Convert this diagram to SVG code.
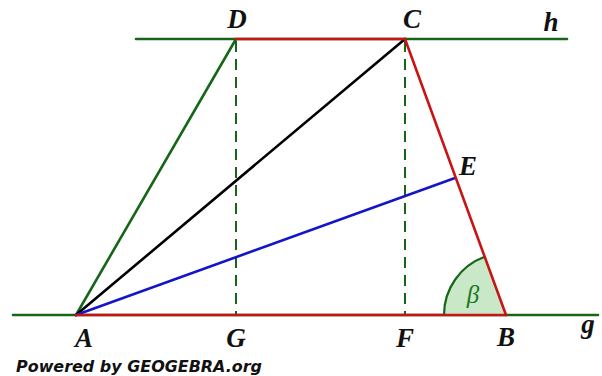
<svg xmlns="http://www.w3.org/2000/svg" width="602" height="376" viewBox="0 0 602 376">
<style>
.ln{stroke-width:2.6;fill:none;stroke-linecap:round}
.gr{stroke:#16661a}
.rd{stroke:#c81414}
.bl{stroke:#1414c8}
.bk{stroke:#000}
.da{stroke:#16661a;stroke-width:2;stroke-dasharray:11 7;fill:none}
.lb{font-family:"Liberation Serif","DejaVu Serif",serif;font-style:italic;font-weight:bold;font-size:27px;fill:#111;text-anchor:middle}
</style>
<rect width="602" height="376" fill="#fff"/>
<g id="connectors">
<line class="ln gr" x1="136" y1="39" x2="567" y2="39"/>
<line class="ln gr" x1="13" y1="315" x2="598" y2="315"/>
<line class="da" x1="236" y1="41" x2="236" y2="314"/>
<line class="da" x1="405" y1="41" x2="405" y2="314"/>
<path id="angle-beta" d="M506,315 L444,315 A62,62 0 0 1 484.7,256.8 Z" fill="#c8e8c8" stroke="none"/>
<path d="M444,315 A62,62 0 0 1 484.7,256.8" class="gr" stroke-width="2.2" fill="none"/>
<line class="ln gr" x1="76" y1="315" x2="236" y2="39"/>
<line class="ln bk" x1="76" y1="315" x2="405" y2="39"/>
<line class="ln bl" x1="76" y1="315" x2="455" y2="178"/>
<line class="ln rd" x1="236" y1="39" x2="405" y2="39"/>
<line class="ln rd" x1="76" y1="315" x2="506" y2="315"/>
<line class="ln rd" x1="405" y1="39" x2="506" y2="315"/>
</g>
<g id="node-D"><text class="lb" x="237" y="28">D</text></g>
<g id="node-C"><text class="lb" x="412" y="28">C</text></g>
<g id="node-h"><text class="lb" x="551" y="31">h</text></g>
<g id="node-E"><text class="lb" x="468" y="175">E</text></g>
<g id="node-A"><text class="lb" x="84" y="347">A</text></g>
<g id="node-G"><text class="lb" x="236" y="347">G</text></g>
<g id="node-F"><text class="lb" x="405" y="347">F</text></g>
<g id="node-B"><text class="lb" x="506" y="346">B</text></g>
<g id="node-g"><text class="lb" x="588" y="333">g</text></g>
<g id="node-beta"><text x="473" y="303" font-family="Liberation Serif,DejaVu Serif,serif" font-style="italic" font-size="25" fill="#1a7a1a" text-anchor="middle">β</text></g>
<g id="credit"><text x="16" y="372" font-family="DejaVu Sans,Verdana,sans-serif" font-weight="bold" font-style="italic" font-size="15" fill="#111" textLength="246" lengthAdjust="spacingAndGlyphs">Powered by GEOGEBRA.org</text></g>
</svg>
